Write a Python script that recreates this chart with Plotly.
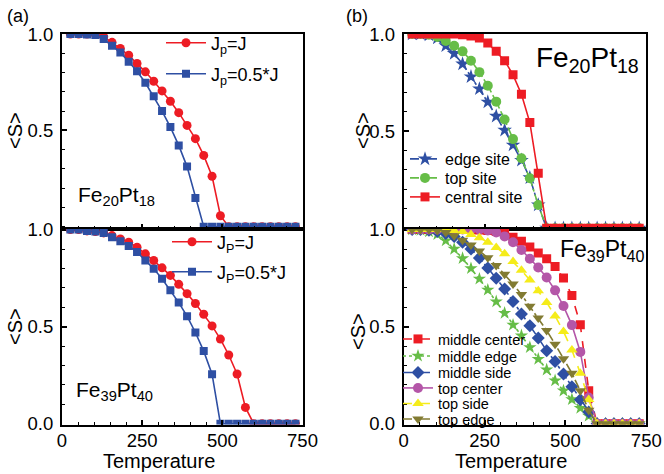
import plotly.graph_objects as go

W, H = 664, 474

# ---------------- data ----------------
temperature = [26 * k for k in range(1, 29)]

# (a) Fe20Pt18
a_top_jpj = [1.0, 1.0, 1.0, 0.998, 0.986, 0.957, 0.925, 0.89, 0.847, 0.804, 0.755, 0.705,
             0.651, 0.592, 0.526, 0.457, 0.37, 0.262, 0.057, 0, 0, 0, 0, 0, 0, 0, 0, 0]
a_top_jp05 = [1.0, 1.0, 0.998, 0.995, 0.974, 0.94, 0.905, 0.856, 0.807, 0.747, 0.677, 0.60,
              0.517, 0.422, 0.312, 0.149, 0, 0, 0, 0, 0, 0, 0, 0, 0, 0, 0, 0]
# (a) Fe39Pt40
a_bot_jpj = [1.0, 1.0, 0.993, 0.99, 0.983, 0.969, 0.952, 0.935, 0.909, 0.875, 0.841, 0.803,
             0.764, 0.718, 0.670, 0.619, 0.564, 0.504, 0.436, 0.354, 0.256, 0.084, 0, 0, 0, 0, 0, 0]
a_bot_jp05 = [1.0, 1.0, 0.993, 0.99, 0.983, 0.96, 0.94, 0.915, 0.884, 0.841, 0.798, 0.747,
              0.687, 0.624, 0.554, 0.47, 0.374, 0.255, 0, 0, 0, 0, 0, 0, 0, 0, 0, 0]

# (b) Fe20Pt18
b_top_edge = [1.0, 1.0, 0.995, 0.98, 0.94, 0.90, 0.846, 0.78, 0.718, 0.65, 0.577, 0.505,
              0.428, 0.35, 0.26, 0.12, 0, 0, 0, 0, 0, 0, 0, 0, 0, 0, 0, 0]
b_top_top = [1.0, 1.0, 0.997, 0.985, 0.965, 0.94, 0.911, 0.863, 0.804, 0.734, 0.652, 0.56,
             0.459, 0.36, 0.257, 0.12, 0, 0, 0, 0, 0, 0, 0, 0, 0, 0, 0, 0]
b_top_central = [1.0, 1.0, 1.0, 1.0, 1.0, 1.0, 0.997, 0.99, 0.98, 0.954, 0.911, 0.863,
                 0.79, 0.69, 0.544, 0.283, 0, 0, 0, 0, 0, 0, 0, 0, 0, 0, 0, 0]
# (b) Fe39Pt40
b_mid_center = [1.0, 1.0, 1.0, 1.0, 1.0, 1.0, 1.0, 1.0, 0.998, 0.995, 0.99, 0.98,
                0.96, 0.94, 0.91, 0.88, 0.85, 0.81, 0.75, 0.66, 0.51, 0.17, 0, 0, 0, 0, 0, 0]
b_mid_edge = [1.0, 0.998, 0.99, 0.975, 0.943, 0.90, 0.852, 0.80, 0.746, 0.689, 0.629, 0.570,
              0.509, 0.454, 0.393, 0.333, 0.278, 0.222, 0.17, 0.125, 0.08, 0.04, 0, 0, 0, 0, 0, 0]
b_mid_side = [1.0, 1.0, 0.997, 0.99, 0.98, 0.965, 0.935, 0.90, 0.854, 0.802, 0.749, 0.694,
              0.63, 0.565, 0.505, 0.442, 0.376, 0.32, 0.256, 0.19, 0.124, 0.06, 0, 0, 0, 0, 0, 0]
b_top_center = [1.0, 1.0, 1.0, 1.0, 1.0, 1.0, 1.0, 1.0, 1.0, 0.995, 0.985, 0.965,
                0.935, 0.895, 0.85, 0.805, 0.753, 0.687, 0.606, 0.508, 0.37, 0.135, 0, 0, 0, 0, 0, 0]
b_top_side = [1.0, 1.0, 1.0, 1.0, 1.0, 0.995, 0.99, 0.975, 0.958, 0.935, 0.908, 0.875,
              0.835, 0.79, 0.74, 0.685, 0.625, 0.555, 0.475, 0.38, 0.26, 0.125, 0, 0, 0, 0, 0, 0]
b_top_edge2 = [1.0, 1.0, 1.0, 0.995, 0.985, 0.968, 0.945, 0.92, 0.89, 0.855, 0.815, 0.77,
               0.72, 0.665, 0.605, 0.545, 0.48, 0.41, 0.335, 0.26, 0.17, 0.07, 0, 0, 0, 0, 0, 0]

x_ticks = [0, 250, 500, 750]

RED = "#ED1C24"
BLUE = "#2E4FA3"
GREEN = "#66BD47"
MAGENTA = "#B456A8"
YELLOW = "#F5EC1A"
OLIVE = "#827B32"

FONT = "Liberation Sans, Arial, sans-serif"


def px(x):
    return x / W


def py(y):
    return 1 - y / H


fig = go.Figure()
legends = {}
leg_count = [0]


def add(y, name, color, symbol, size, dash, xa, ya, lx, ly, fsize, iw):
    leg_count[0] += 1
    key = "legend" if leg_count[0] == 1 else "legend%d" % leg_count[0]
    off = 30 if iw == 40 else 20
    legends[key] = dict(x=px(lx - off), y=py(ly), xanchor="left", yanchor="middle",
                        font=dict(family=FONT, size=fsize, color="black"),
                        bgcolor="rgba(0,0,0,0)", itemwidth=iw, borderwidth=0)
    fig.add_trace(go.Scatter(
        x=temperature, y=y, name=name, mode="lines+markers",
        line=dict(color=color, width=1.6, dash=dash),
        marker=dict(color=color, symbol=symbol, size=size, line=dict(width=0)),
        xaxis=xa, yaxis=ya, legend=key))


add(a_top_jpj, "J<sub>p</sub>=J", RED, "circle", 9, "solid", "x", "y", 191, 43, 18, 40)
add(a_top_jp05, "J<sub>p</sub>=0.5*J", BLUE, "square", 8, "solid", "x", "y", 191, 74, 18, 40)
add(a_bot_jpj, "J<sub>P</sub>=J", RED, "circle", 9, "solid", "x2", "y2", 197, 242, 18, 40)
add(a_bot_jp05, "J<sub>P</sub>=0.5*J", BLUE, "square", 8, "solid", "x2", "y2", 197, 272, 18, 40)

add(b_top_edge, "edge site", BLUE, "star", 11, "dashdot", "x3", "y3", 425, 159, 16, 30)
add(b_top_top, "top site", GREEN, "circle", 10, "dashdot", "x3", "y3", 425, 178, 16, 30)
add(b_top_central, "central site", RED, "square", 9, "solid", "x3", "y3", 425, 197, 16, 30)

add(b_mid_center, "middle center", RED, "square", 9, "dash", "x4", "y4", 418, 339, 14.5, 30)
add(b_mid_edge, "middle edge", GREEN, "star", 10, "dot", "x4", "y4", 418, 356, 14.5, 30)
add(b_mid_side, "middle side", BLUE, "diamond", 10, "dashdot", "x4", "y4", 418, 372.5, 14.5, 30)
add(b_top_center, "top center", MAGENTA, "circle", 10, "solid", "x4", "y4", 418, 388, 14.5, 30)
add(b_top_side, "top side", YELLOW, "triangle-up", 10, "dash", "x4", "y4", 418, 403.5, 14.5, 30)
add(b_top_edge2, "top edge", OLIVE, "triangle-down", 10, "dashdot", "x4", "y4", 418, 419, 14.5, 30)

XL = [px(62), px(302.5)]
XR = [px(403.7), px(646.3)]
YT = [py(229), py(33.5)]
YB = [py(424.5), py(229)]

tickfont = dict(family=FONT, size=18.5, color="black")


def xaxis(domain, anchor, labels):
    return dict(domain=domain, anchor=anchor, range=[0, 750], tickvals=x_ticks,
                ticktext=[str(v) for v in x_ticks], showticklabels=labels,
                ticks="inside", ticklen=5, tickwidth=1.5, tickcolor="black",
                minor=dict(dtick=50, ticks="inside", ticklen=3, tickwidth=1.2, tickcolor="black"),
                showline=True, linewidth=2, linecolor="black", mirror=True,
                showgrid=False, zeroline=False, tickfont=tickfont, ticklabelstandoff=-2,
                automargin=False)


def yaxis(domain, anchor, rng, vals):
    return dict(domain=domain, anchor=anchor, range=rng, tickvals=vals,
                ticktext=["%.1f" % v for v in vals],
                ticks="inside", ticklen=5, tickwidth=1.5, tickcolor="black",
                minor=dict(dtick=0.1, tick0=0, ticks="inside", ticklen=3, tickwidth=1.2, tickcolor="black"),
                showline=True, linewidth=2, linecolor="black", mirror=True,
                showgrid=False, zeroline=False, tickfont=tickfont, ticklabelstandoff=3,
                automargin=False)


layout = dict(
    width=W, height=H, margin=dict(l=0, r=0, t=0, b=0, autoexpand=False),
    paper_bgcolor="white", plot_bgcolor="white",
    font=dict(family=FONT, color="black"),
    xaxis=xaxis(XL, "y", False),
    yaxis=yaxis(YT, "x", [-0.012, 1.003], [0.5, 1.0]),
    xaxis2=xaxis(XL, "y2", True),
    yaxis2=yaxis(YB, "x2", [-0.004, 1.003], [0.0, 0.5, 1.0]),
    xaxis3=xaxis(XR, "y3", False),
    yaxis3=yaxis(YT, "x3", [-0.004, 1.003], [0.5, 1.0]),
    xaxis4=xaxis(XR, "y4", True),
    yaxis4=yaxis(YB, "x4", [-0.004, 1.003], [0.0, 0.5, 1.0]),
    showlegend=True,
)
layout.update(legends)
fig.update_layout(**layout)

ann = [
    ("(a)", 18, 16, 18, 0),
    ("(b)", 357, 16, 18, 0),
    ("&lt;S&gt;", 15, 131, 20, -90),
    ("&lt;S&gt;", 15, 327, 20, -90),
    ("&lt;S&gt;", 363, 131, 20, -90),
    ("&lt;S&gt;", 358, 332, 20, -90),
    ("Temperature", 159, 461, 20, 0),
    ("Temperature", 511, 461, 20, 0),
]
for text, x, y, size, ang in ann:
    fig.add_annotation(text=text, x=px(x), y=py(y), xref="paper", yref="paper",
                       showarrow=False, textangle=ang, xanchor="center", yanchor="middle",
                       font=dict(family=FONT, size=size, color="black"))

labels = [
    ("Fe<sub>20</sub>Pt<sub>18</sub>", 76, 196, 21),
    ("Fe<sub>39</sub>Pt<sub>40</sub>", 74, 391, 21),
    ("Fe<sub>20</sub>Pt<sub>18</sub>", 534, 59, 28),
    ("Fe<sub>39</sub>Pt<sub>40</sub>", 558, 250, 23),
]
for text, x, y, size in labels:
    fig.add_annotation(text=text, x=px(x), y=py(y), xref="paper", yref="paper",
                       showarrow=False, xanchor="left", yanchor="middle",
                       font=dict(family=FONT, size=size, color="black"))

fig.write_html("out.html", config={"displayModeBar": False},
               post_script="document.body.style.margin='0px';")
